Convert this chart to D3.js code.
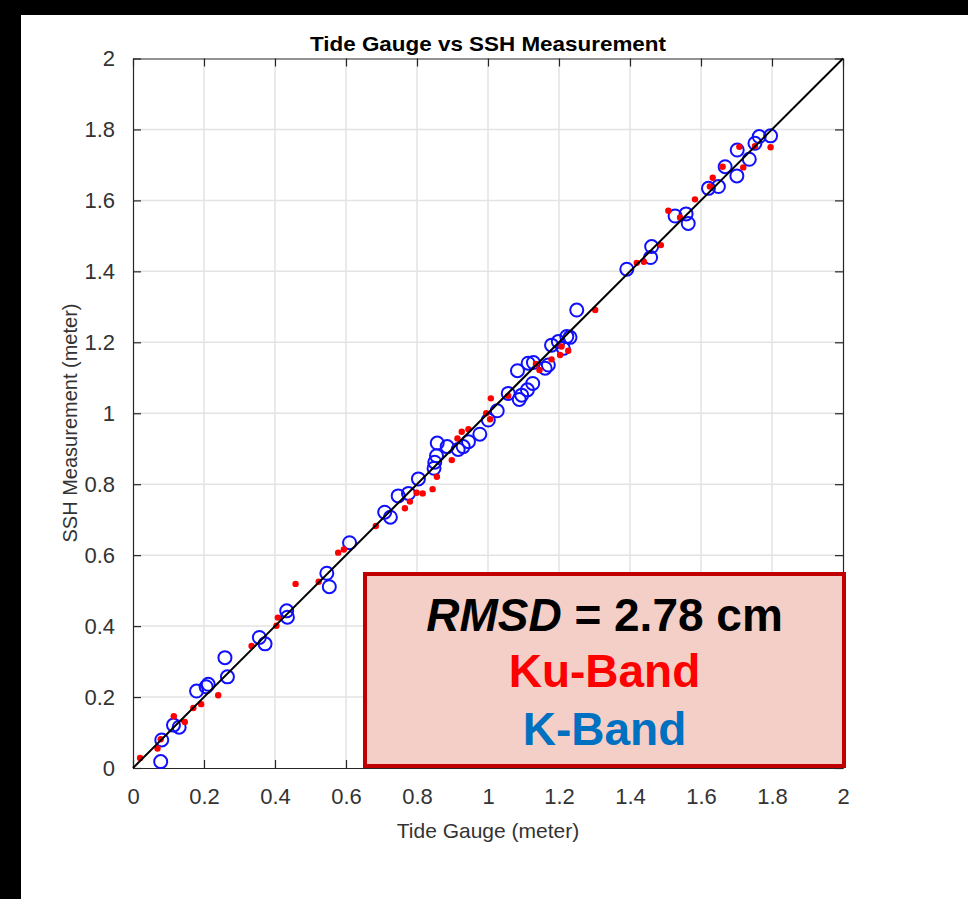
<!DOCTYPE html>
<html><head><meta charset="utf-8">
<script src="https://cdn.jsdelivr.net/npm/d3@7"></script>
<style>html,body{margin:0;padding:0;background:#fff;overflow:hidden;width:100%;height:100%;}svg{display:block;}</style>
</head><body>
<svg id="chart" width="1000" height="1000"></svg>
<script>
const title = "Tide Gauge vs SSH Measurement";
const xLabel = "Tide Gauge (meter)";
const yLabel = "SSH Measurement (meter)";
const tickValues = [0, 0.2, 0.4, 0.6, 0.8, 1, 1.2, 1.4, 1.6, 1.8, 2];
const legendLines = ["RMSD = 2.78 cm", "Ku-Band", "K-Band"];

// K-Band (blue open circles): [tide gauge, SSH]
const kBandX = [0.078,0.081,0.114,0.130,0.179,0.206,0.212,0.259,0.266,0.356,0.372,0.433,0.435,0.546,0.553,0.610,0.709,0.725,0.747,0.776,0.804,0.848,0.850,0.855,0.857,0.885,0.916,0.930,0.945,0.977,1.001,1.026,1.057,1.088,1.095,1.111,1.126,1.083,1.113,1.128,1.161,1.170,1.179,1.198,1.212,1.222,1.231,1.250,1.391,1.461,1.458,1.527,1.558,1.564,1.621,1.649,1.668,1.701,1.702,1.736,1.752,1.764,1.796];
const kBandY = [0.018,0.079,0.121,0.115,0.217,0.229,0.236,0.311,0.257,0.368,0.350,0.443,0.425,0.549,0.511,0.635,0.721,0.707,0.767,0.774,0.815,0.845,0.862,0.880,0.916,0.906,0.898,0.906,0.920,0.941,0.981,1.007,1.056,1.039,1.051,1.066,1.084,1.120,1.141,1.143,1.127,1.136,1.192,1.202,1.183,1.216,1.214,1.291,1.406,1.470,1.439,1.556,1.562,1.535,1.634,1.639,1.695,1.669,1.742,1.716,1.761,1.780,1.782];

// Ku-Band (red dots)
const kuBandX = [0.020,0.069,0.078,0.115,0.146,0.170,0.192,0.240,0.334,0.408,0.404,0.458,0.523,0.578,0.594,0.684,0.766,0.780,0.799,0.816,0.844,0.856,0.898,0.914,0.926,0.945,0.995,1.006,1.008,1.057,1.135,1.145,1.179,1.203,1.207,1.226,1.302,1.419,1.439,1.487,1.508,1.541,1.583,1.625,1.633,1.661,1.708,1.719,1.752,1.796];
const kuBandY = [0.028,0.055,0.081,0.146,0.130,0.169,0.180,0.205,0.344,0.424,0.401,0.519,0.525,0.607,0.616,0.682,0.732,0.751,0.776,0.774,0.786,0.821,0.868,0.929,0.948,0.955,1.000,0.983,1.042,1.049,1.139,1.122,1.152,1.164,1.188,1.176,1.291,1.424,1.427,1.474,1.571,1.552,1.603,1.639,1.664,1.695,1.751,1.693,1.753,1.750];

const svg = d3.select("#chart");
const W = 1000, H = 1000;
svg.append("rect").attr("width", W).attr("height", H).attr("fill", "#ffffff");
svg.append("rect").attr("x", 0).attr("y", 0).attr("width", W).attr("height", 15).attr("fill", "#000");
svg.append("rect").attr("x", 0).attr("y", 0).attr("width", 21).attr("height", H).attr("fill", "#000");

const L = 133, R = 843, T = 58.5, B = 768;
const x = d3.scaleLinear().domain([0, 2]).range([L, R]);
const y = d3.scaleLinear().domain([0, 2]).range([B, T]);
const axisColor = "#262626";
const font = "'Liberation Sans', Arial, Helvetica, sans-serif";

// grid
const grid = svg.append("g");
grid.selectAll(".gx").data(tickValues.slice(1, -1)).join("line")
  .attr("x1", d => x(d)).attr("x2", d => x(d)).attr("y1", T).attr("y2", B)
  .attr("stroke", "#e3e3e3").attr("stroke-width", 1.5);
grid.selectAll(".gy").data(tickValues.slice(1, -1)).join("line")
  .attr("y1", d => y(d)).attr("y2", d => y(d)).attr("x1", L).attr("x2", R)
  .attr("stroke", "#e3e3e3").attr("stroke-width", 1.5);

// axes (ticks inward, MATLAB style)
const fmt = d => d3.format("~g")(d);
const tickLen = 8;
const xAxisB = d3.axisBottom(x).tickValues(tickValues).tickFormat(fmt).tickSizeInner(-tickLen).tickSizeOuter(0).tickPadding(20);
const xAxisT = d3.axisTop(x).tickValues(tickValues).tickFormat("").tickSizeInner(-tickLen).tickSizeOuter(0);
const yAxisL = d3.axisLeft(y).tickValues(tickValues).tickFormat(fmt).tickSizeInner(-tickLen).tickSizeOuter(0).tickPadding(18);
const yAxisR = d3.axisRight(y).tickValues(tickValues).tickFormat("").tickSizeInner(-tickLen).tickSizeOuter(0);

function styleAxis(g) {
  g.selectAll("path").attr("stroke", axisColor).attr("stroke-width", 1.2);
  g.selectAll("line").attr("stroke", axisColor).attr("stroke-width", 1.2);
  g.selectAll("text").attr("fill", "#333").style("font-family", font).style("font-size", "22px");
}
svg.append("g").attr("transform", `translate(0,${B})`).call(xAxisB).call(styleAxis);
svg.append("g").attr("transform", `translate(0,${T})`).call(xAxisT).call(styleAxis);
svg.append("g").attr("transform", `translate(${L},0)`).call(yAxisL).call(styleAxis);
svg.append("g").attr("transform", `translate(${R},0)`).call(yAxisR).call(styleAxis);

// data
const kData = kBandX.map((v, i) => [v, kBandY[i]]);
const kuData = kuBandX.map((v, i) => [v, kuBandY[i]]);

svg.append("g").selectAll("circle").data(kData).join("circle")
  .attr("cx", d => x(d[0])).attr("cy", d => y(d[1])).attr("r", 6.5)
  .attr("fill", "none").attr("stroke", "#1010ff").attr("stroke-width", 2);

svg.append("g").selectAll("circle").data(kuData).join("circle")
  .attr("cx", d => x(d[0])).attr("cy", d => y(d[1])).attr("r", 3.2)
  .attr("fill", "#ff0000");

// 1:1 line
svg.append("line").attr("x1", x(0)).attr("y1", y(0)).attr("x2", x(2)).attr("y2", y(2))
  .attr("stroke", "#000").attr("stroke-width", 2);

// title & labels
svg.append("text").attr("x", (L + R) / 2).attr("y", 51).attr("text-anchor", "middle")
  .style("font-family", font).style("font-size", "21px").style("font-weight", "bold")
  .attr("fill", "#000").attr("textLength", 356).attr("lengthAdjust", "spacingAndGlyphs").text(title);
svg.append("text").attr("x", (L + R) / 2).attr("y", 838).attr("text-anchor", "middle")
  .style("font-family", font).style("font-size", "21px").attr("fill", "#333").text(xLabel);
svg.append("text").attr("transform", "translate(77,423) rotate(-90)").attr("text-anchor", "middle")
  .style("font-family", font).style("font-size", "20px").attr("fill", "#333").text(yLabel);

// annotation box
const bx = 365, by = 574, bw = 479, bh = 192;
svg.append("rect").attr("x", bx).attr("y", by).attr("width", bw).attr("height", bh)
  .attr("fill", "#f4cfc7").attr("stroke", "#c00000").attr("stroke-width", 4);
const cx = bx + bw / 2;
const t1 = svg.append("text").attr("x", cx).attr("y", 631).attr("text-anchor", "middle")
  .style("font-family", font).style("font-size", "46px").style("font-weight", "bold").attr("fill", "#000");
t1.append("tspan").style("font-style", "italic").text(legendLines[0].split(" = ")[0]);
t1.append("tspan").text(" = " + legendLines[0].split(" = ")[1]);
svg.append("text").attr("x", cx).attr("y", 687).attr("text-anchor", "middle")
  .style("font-family", font).style("font-size", "46px").style("font-weight", "bold")
  .attr("fill", "#ff0000").text(legendLines[1]);
svg.append("text").attr("x", cx).attr("y", 745).attr("text-anchor", "middle")
  .style("font-family", font).style("font-size", "46px").style("font-weight", "bold")
  .attr("fill", "#0070c0").text(legendLines[2]);
</script>
</body></html>
